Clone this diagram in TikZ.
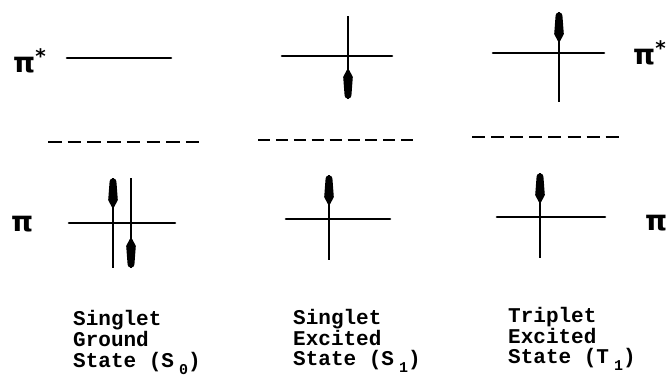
\documentclass[tikz,border=0pt]{standalone}
\usepackage{fontspec}
\newfontfamily\labfont{Liberation Mono}
\newfontfamily\pifont{DejaVu Sans}
\tikzset{
  level/.style={line width=2.6pt, line cap=round},
  spinline/.style={line width=2.2pt},
  gap/.style={line width=2.8pt},
  lab/.style={font=\labfont\bfseries\fontsize{21}{21}\selectfont, anchor=base west, inner sep=0pt},
  orb/.style={font=\pifont\bfseries\fontsize{28}{28}\selectfont, anchor=base west, inner sep=0pt},
  spinhead/.pic={\fill (0,0) .. controls (-2.6,0) and (-3.6,2.5) .. (-3.6,6) -- (-4.8,22) -- (-1.2,29) -- (1.2,29) -- (4.8,22) -- (3.6,6) .. controls (3.6,2.5) and (2.6,0) .. (0,0) -- cycle;}
}
\newcommand\subsc[1]{\hspace{5pt}\raisebox{-7pt}{\fontsize{15}{15}\selectfont #1}}
\newcommand\pistar{π\raisebox{9pt}{\fontsize{20}{20}\selectfont *}}
\begin{document}
\begin{tikzpicture}[x=1pt,y=-1pt]
\useasboundingbox (0,0) rectangle (669,378);
% orbital labels
\node[orb] (pisl) at (13,72) {\pistar};
\node[orb] (pil) at (11,231) {π};
\node[orb] (pisr) at (633,64) {\pistar};
\node[orb] (pir) at (645,230) {π};
% pi* levels
\draw[level] (67,58) -- (171,58);
\draw[level] (282,56) -- (392,56);
\draw[level] (493,53) -- (604,53);
% dashed lines
\draw[gap, dash pattern=on 13.5pt off 6.2pt] (48,142) -- (199,142);
\draw[gap, dash pattern=on 12pt off 5.9pt] (258,140) -- (413,140);
\draw[gap, dash pattern=on 13pt off 6.1pt] (472,137) -- (619,137);
% pi levels
\draw[level] (69,223) -- (175,223);
\draw[level] (286,219) -- (390,219);
\draw[level] (497,217) -- (605,217);
% spins
\coordinate (a1) at (348,16); \coordinate (a2) at (348,99);
\draw[spinline] (a1) -- (a2);
\pic[rotate=180] at (a2) {spinhead};
\coordinate (b1) at (559,12); \coordinate (b2) at (559,102);
\draw[spinline] (b1) -- (b2);
\pic at (b1) {spinhead};
\coordinate (c1) at (113,178); \coordinate (c2) at (113,268);
\draw[spinline] (c1) -- (c2);
\pic at (c1) {spinhead};
\coordinate (d1) at (131,178); \coordinate (d2) at (131,268);
\draw[spinline] (d1) -- (d2);
\pic[rotate=180] at (d2) {spinhead};
\coordinate (e1) at (329,175); \coordinate (e2) at (329,260);
\draw[spinline] (e1) -- (e2);
\pic at (e1) {spinhead};
\coordinate (f1) at (540,173); \coordinate (f2) at (540,258);
\draw[spinline] (f1) -- (f2);
\pic at (f1) {spinhead};
% state labels
\node[lab] (t1a) at (73,325) {Singlet};
\node[lab] (t1b) at (73,346) {Ground};
\node[lab] (t1c) at (73,367) {State (S\subsc{0})};
\node[lab] (t2a) at (293,324) {Singlet};
\node[lab] (t2b) at (293,345) {Excited};
\node[lab] (t2c) at (293,365) {State (S\subsc{1})};
\node[lab] (t3a) at (508,322) {Triplet};
\node[lab] (t3b) at (508,343) {Excited};
\node[lab] (t3c) at (508,363) {State (T\subsc{1})};
\end{tikzpicture}
\end{document}
